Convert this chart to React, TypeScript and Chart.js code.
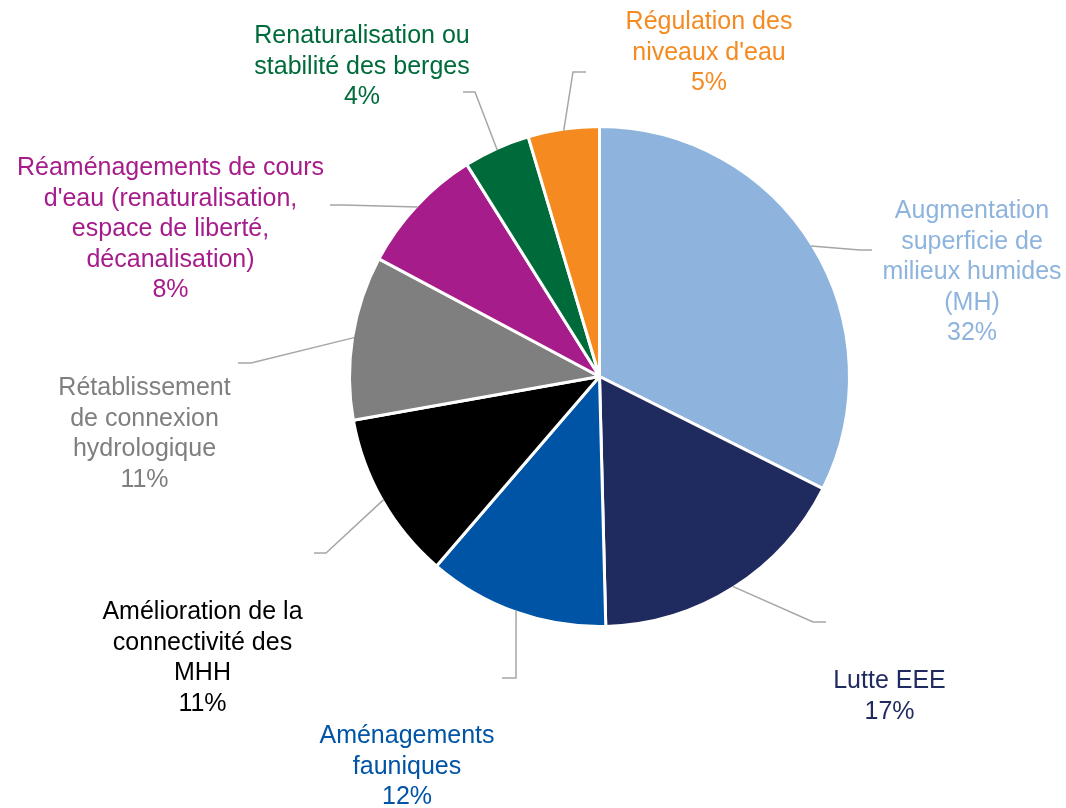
import React, { useEffect, useRef } from "react";
import { Chart, registerables } from "chart.js";

Chart.register(...registerables);

// ---- Data ----
const categories: string[][] = [
  ["Augmentation", "superficie de", "milieux humides", "(MH)"],
  ["Lutte EEE"],
  ["Aménagements", "fauniques"],
  ["Amélioration de la", "connectivité des", "MHH"],
  ["Rétablissement", "de connexion", "hydrologique"],
  ["Réaménagements de cours", "d'eau (renaturalisation,", "espace de liberté,", "décanalisation)"],
  ["Renaturalisation ou", "stabilité des berges"],
  ["Régulation des", "niveaux d'eau"],
];
const values = [32.4, 17.2, 11.7, 10.9, 10.6, 8.3, 4.3, 4.6];
const percentLabels = ["32%", "17%", "12%", "11%", "11%", "8%", "4%", "5%"];

// ---- Styles ----
const sliceColors = ["#8EB4DE", "#1F2A5E", "#0054A6", "#000000", "#7F7F7F", "#A61C8B", "#006B3A", "#F58A20"];
const labelColors = ["#8EB4DE", "#1F2A5E", "#0054A6", "#000000", "#7F7F7F", "#A61C8B", "#006B3A", "#F58A20"];

// label layout relative to pie centre: [textCenterX, firstBaselineY]
const labelPos: [number, number][] = [
  [372.5, -158.2],
  [290, 311.8],
  [-192.5, 366.8],
  [-397, 242.5],
  [-455, 18.5],
  [-429, -201.5],
  [-237.5, -333.2],
  [109.5, -347.2],
];
// leader lines: elbow and end, relative to pie centre
const leaderPts: [number, number, number, number][] = [
  [260.5, -126.5, 272.5, -126.5],
  [213.5, 245.5, 226.5, 245.5],
  [-83.5, 301.5, -97.5, 301.5],
  [-273.5, 176.5, -285.5, 176.5],
  [-348.5, -13.5, -361.5, -13.5],
  [-256.5, -171.5, -269.5, -171.5],
  [-124.5, -284.5, -136.5, -284.5],
  [-26.5, -304.5, -13.5, -304.5],
];

const FONT = '25px "Liberation Sans", Arial, sans-serif';
const LINE_H = 30.5;
const BORDER = 3;
const W = 1066;
const H = 808;

const labelPlugin = {
  id: "pieLabels",
  afterDatasetsDraw(chart: any) {
    const ctx = chart.ctx;
    const meta = chart.getDatasetMeta(0);
    ctx.save();
    meta.data.forEach((arc: any, i: number) => {
      const { x, y, startAngle, endAngle, outerRadius } = arc.getProps(
        ["x", "y", "startAngle", "endAngle", "outerRadius"],
        true
      );
      const mid = (startAngle + endAngle) / 2;
      const r = outerRadius - BORDER / 2;
      const ax = x + r * Math.cos(mid);
      const ay = y + r * Math.sin(mid);
      const lp = leaderPts[i];
      ctx.beginPath();
      ctx.strokeStyle = "#A6A6A6";
      ctx.lineWidth = 1.5;
      ctx.moveTo(ax, ay);
      ctx.lineTo(x + lp[0], y + lp[1]);
      ctx.lineTo(x + lp[2], y + lp[3]);
      ctx.stroke();

      const lines = [...categories[i], percentLabels[i]];
      ctx.font = FONT;
      ctx.fillStyle = labelColors[i];
      ctx.textAlign = "center";
      ctx.textBaseline = "alphabetic";
      const [tx, ty] = labelPos[i];
      lines.forEach((ln, k) => {
        ctx.fillText(ln, x + tx, y + ty + k * LINE_H);
      });
    });
    ctx.restore();
  },
};

export default function App() {
  const ref = useRef<HTMLCanvasElement | null>(null);
  useEffect(() => {
    if (!ref.current) return;
    const chart = new Chart(ref.current, {
      type: "pie",
      data: {
        labels: categories.map((c) => c.join(" ")),
        datasets: [
          {
            data: values,
            backgroundColor: sliceColors,
            borderColor: "#FFFFFF",
            borderWidth: BORDER,
            hoverOffset: 0,
            offset: 0,
          },
        ],
      },
      options: {
        responsive: false,
        animation: false,
        devicePixelRatio: 1,
        radius: 250,
        layout: { padding: { left: 351.5, right: 218.5, top: 128.5, bottom: 183.5 } },
        plugins: {
          legend: { display: false },
          tooltip: { enabled: false },
        },
      } as any,
      plugins: [labelPlugin],
    });
    return () => chart.destroy();
  }, []);
  return (
    <canvas
      ref={ref}
      width={W}
      height={H}
      style={{ display: "block", position: "fixed", left: 0, top: 0, background: "#FFFFFF" }}
    />
  );
}
